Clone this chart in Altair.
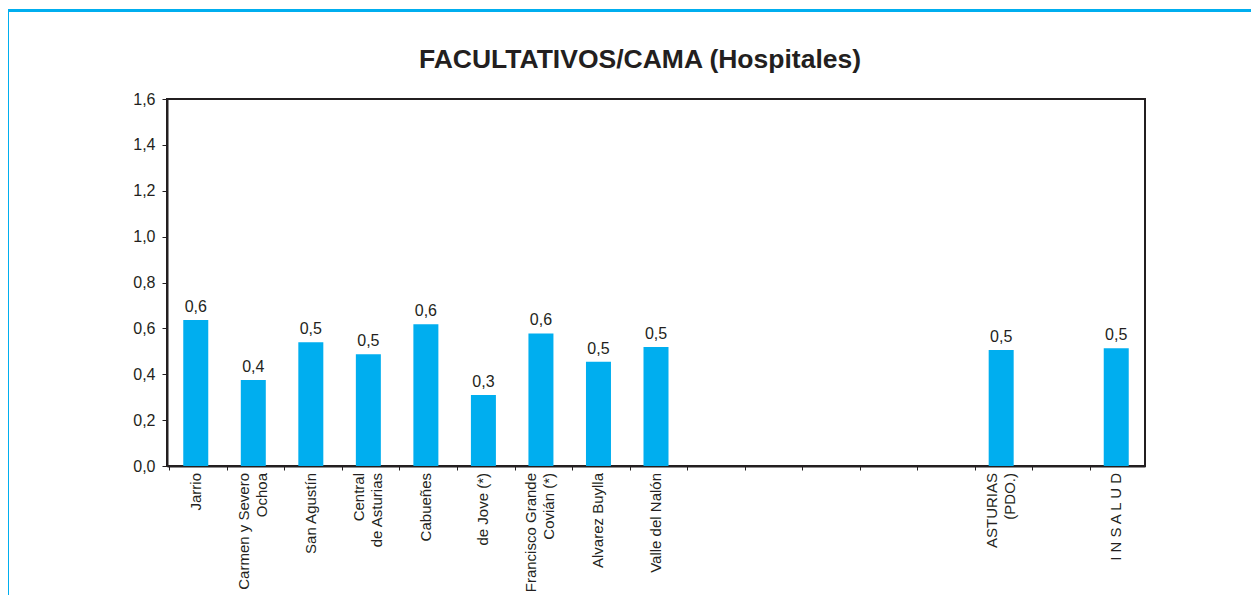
import altair as alt
import pandas as pd

categories = [
    "Jarrio", "Carmen y Severo|Ochoa", "San Agustín", "Central|de Asturias",
    "Cabueñes", "de Jove (*)", "Francisco Grande|Covián (*)", "Alvarez Buylla",
    "Valle del Nalón", "_e1", "_e2", "_e3", "_e4", "_e5",
    "ASTURIAS|(PDO.)", "_e6", "I N S A L U D",
]
values = [0.636, 0.375, 0.54, 0.487, 0.618, 0.31, 0.578, 0.455, 0.519,
          None, None, None, None, None, 0.506, None, 0.513]
chart_title = "FACULTATIVOS/CAMA (Hospitales)"

df = pd.DataFrame({"cat": categories, "val": values})
df["line1"] = [c.split("|")[0] for c in categories]
df["line2"] = [c.split("|")[1] if "|" in c else "" for c in categories]
df["two"] = ["|" in c for c in categories]
df["empty"] = [c.startswith("_e") for c in categories]
bars_df = df.dropna(subset=["val"]).reset_index(drop=True)
single_df = df[(~df["two"]) & (~df["empty"])][["cat", "line1"]]
two_df = df[df["two"]][["cat", "line1", "line2"]]

INK = "#231F20"
CYAN = "#00AEEF"
FONT = "Liberation Sans"
H = 367

x = alt.X(
    "cat:N", title=None,
    scale=alt.Scale(domain=categories),
    axis=alt.Axis(
        labels=False, bandPosition=0, tickSize=4, tickColor=INK,
        domainColor=INK, domainWidth=2,
    ),
)
y = alt.Y(
    "val:Q", title=None,
    scale=alt.Scale(domain=[0, 1.6], nice=False),
    axis=alt.Axis(
        values=[0, 0.2, 0.4, 0.6, 0.8, 1.0, 1.2, 1.4, 1.6], grid=False,
        format=".1f", tickSize=5, tickColor=INK, domainColor=INK, domainWidth=2,
        labelPadding=7, labelFontSize=16, labelFont=FONT, labelColor=INK,
    ),
)

bars = alt.Chart(bars_df).mark_bar(color=CYAN, size=25).encode(x=x, y=y)
values_txt = alt.Chart(bars_df).mark_text(
    dy=-8, baseline="alphabetic", fontSize=16, font=FONT, color=INK
).encode(x=x, y=y, text=alt.Text("val:Q", format=".1f"))

lab_kw = dict(angle=270, align="right", baseline="middle", fontSize=15, font=FONT, color=INK)
lab_single = alt.Chart(single_df).mark_text(**lab_kw).encode(
    x=x, y=alt.value(H + 7), text="line1:N")
lab_first = alt.Chart(two_df).mark_text(dy=-9.5, **lab_kw).encode(
    x=x, y=alt.value(H + 7), text="line1:N")
lab_second = alt.Chart(two_df).mark_text(dy=8.5, **lab_kw).encode(
    x=x, y=alt.value(H + 7), text="line2:N")

title_txt = alt.Chart(pd.DataFrame({"t": [chart_title]})).mark_text(
    fontSize=26.5, font=FONT, fontWeight="bold", color=INK, align="center",
    baseline="alphabetic",
).encode(x=alt.value(473), y=alt.value(-31), text="t:N")

frame = alt.Chart(pd.DataFrame({"a": [0]})).mark_rect(
    fillOpacity=0, stroke=CYAN, strokeWidth=3
).encode(x=alt.value(-159.5), x2=alt.value(1300), y=alt.value(-88.5), y2=alt.value(700))

chart = alt.layer(
    bars, values_txt, lab_single, lab_first, lab_second, title_txt, frame
).properties(
    width=978, height=H,
    autosize=alt.AutoSizeParams(type="none"),
    padding={"left": 159, "top": 91, "right": 106, "bottom": 129},
    background="white",
).configure(
    locale=alt.Locale(number=alt.NumberLocale(
        decimal=",", thousands=".", grouping=[3], currency=["", " €"]))
).configure_view(stroke=INK, strokeWidth=2)

chart.save("out.html", embed_options={"renderer": "svg", "actions": False})
